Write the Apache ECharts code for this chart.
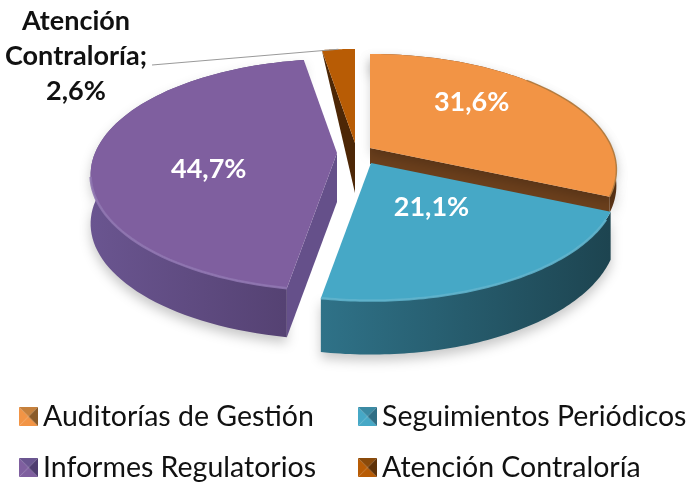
<!DOCTYPE html>
<html><head><meta charset="utf-8">
<style>html,body{margin:0;padding:0;background:#fff}#c{width:698px;height:482px}</style>
<script src="https://cdn.jsdelivr.net/npm/echarts@6/dist/echarts.min.js"></script>
</head><body><div id="c"></div>
<script>
const categories = ['Auditorías de Gestión','Seguimientos Periódicos','Informes Regulatorios','Atención Contraloría'];
const values = [31.6, 21.1, 44.7, 2.6];
const valueLabels = ['31,6%','21,1%','44,7%','2,6%'];

// styling / projection settings, separate from the data
const topColors  = ['#f29445','#46a8c6','#7f5f9f','#b85c05'];
const rimColors  = ['#b07a3e','#5fb3cc','#8f76b0','#a85405'];
const rimLimit   = [0.7,-0.45,-0.2,-2];
const rimWidth   = [1.5,2.5,2.5,0];
const radial     = ['#6b3f1c','#2f7288','#65508a','#4d2706'];
const wallStops  = [['#6b3f1c','#5a3315'],['#2f7288','#1d4450'],['#6a5590','#534070'],['#4d2706','#4d2706']];
const iconMid    = ['#c5803c','#3b8aa3','#6a5590','#8a4a0a'];
const iconDark   = ['#8a5a28','#2f6e85','#4f3d70','#5e3208'];
const apexes     = [[370,148],[371,163],[337,153],[355,143]];
const labelOffset= [[0.42,-0.41],[0.25,0.40],[-0.53,0.15]];
const drawOrder  = [3,2,0,1];
const RX = 242, RY = 111.7, K = 0.188;

const total = values.reduce((a,b)=>a+b,0);
const starts = []; let acc = 0;
values.forEach(v=>{ starts.push(acc/total*Math.PI*2); acc += v; });
const ends = values.map((v,i)=>starts[i]+v/total*Math.PI*2);

function proj(i,a){
  const u=Math.sin(a), v=Math.cos(a), s=1/(1+K*v);
  return [apexes[i][0]+RX*u*s, apexes[i][1]-RY*v*s];
}
const depthOf = [
  ()=>16,
  a=>44-10*Math.cos(a),
  ()=>49,
  ()=>50
];
function steps(a0,a1,n){ const p=[]; for(let k=0;k<=n;k++){ p.push(a0+(a1-a0)*k/n);} return p; }

function renderSlice(i){
  return function(){
    const ang = steps(starts[i],ends[i],80);
    const depth = depthOf[i];
    const top = ang.map(a=>proj(i,a));
    const bot = ang.map(a=>{const p=proj(i,a);return [p[0],p[1]+depth(a)];});
    const ap = apexes[i];
    const shadow = {shadowBlur:12,shadowColor:'rgba(0,0,0,0.22)',shadowOffsetY:6};
    const children = [];
    // outer wall: the sliver slice shows only its cut face
    if(values[i]>5) children.push({type:'polygon',shape:{points:top.concat(bot.slice().reverse())},
      style:Object.assign({fill:{type:'linear',x:0,y:0,x2:1,y2:0,colorStops:[
        {offset:0,color:wallStops[i][0]},{offset:1,color:wallStops[i][1]}]}},shadow)});
    // cut faces that look towards the viewer
    [[starts[i],-1],[ends[i],1]].forEach(e=>{
      const a=e[0];
      if(Math.sin(a)*e[1]<0.001) return;
      const p=proj(i,a), c=Math.cos(a);
      const rimH = c>0.9?0:depth(a);
      children.push({type:'polygon',shape:{points:[ap,p,[p[0],p[1]+rimH],[ap[0],ap[1]+depth(Math.PI/2)]]},
        style:{fill:radial[i]}});
    });
    // top face
    const topStyle={fill:topColors[i]};
    if(i===0) Object.assign(topStyle,{shadowBlur:10,shadowColor:'rgba(0,0,0,0.16)',shadowOffsetY:6});
    children.push({type:'polygon',shape:{points:[ap].concat(top)},style:topStyle});
    // bevel highlight on the front rim
    const front = top.filter((p,k)=>Math.cos(ang[k])<rimLimit[i]);
    if(rimWidth[i]>0 && front.length>1) children.push({type:'polyline',shape:{points:front},
      style:{fill:null,stroke:rimColors[i],lineWidth:rimWidth[i],opacity:0.9}});
    // value label
    if(labelOffset[i]){
      children.push({type:'text',style:{
        x:ap[0]+RX*labelOffset[i][0], y:ap[1]+RY*labelOffset[i][1],
        text:valueLabels[i],fill:'#fff',font:'bold 27px Lato, "Open Sans", sans-serif',
        align:'center',verticalAlign:'middle'}});
    } else {
      const m=proj(i,(starts[i]+ends[i])/2);
      children.push({type:'polyline',shape:{points:[[152,65],m]},style:{fill:null,stroke:'#9a9a9a',lineWidth:1.2}});
      const parts=categories[i].split(' ');
      [parts[0],parts[1]+';',valueLabels[i]].forEach((t,k)=>{
        children.push({type:'text',style:{x:76,y:21+35*k,text:t,fill:'#111',
          font:'bold 27px Lato, "Open Sans", sans-serif',align:'center',verticalAlign:'middle'}});
      });
    }
    return {type:'group',children};
  };
}

function icon(i){
  const c=document.createElement('canvas'); c.width=c.height=20;
  const g=c.getContext('2d');
  const tri=(pts,col)=>{g.fillStyle=col;g.beginPath();pts.forEach((p,k)=>k?g.lineTo(p[0],p[1]):g.moveTo(p[0],p[1]));g.closePath();g.fill();};
  const C=[10,10];
  tri([[0,0],[0,20],C],topColors[i]);
  tri([[0,20],[20,20],C],topColors[i]);
  tri([[0,0],[20,0],C],iconMid[i]);
  tri([[20,0],[20,20],C],iconDark[i]);
  return 'image://'+c.toDataURL();
}
const legendBase = {orient:'vertical',itemWidth:19,itemHeight:19,itemGap:22,height:160,
  textStyle:{fontFamily:'Lato, "Open Sans", sans-serif',fontSize:28.5,color:'#111',padding:[0,0,0,0]},
  selectedMode:false,padding:0};
const legendData = ns=>ns.map(i=>({name:categories[i],icon:icon(i)}));

const chart = echarts.init(document.getElementById('c'),null,{renderer:'canvas'});
chart.setOption({
  animation:false,
  backgroundColor:'#fff',
  legend:[
    Object.assign({left:19,top:402,data:legendData([0,2])},legendBase),
    Object.assign({left:358,top:402,data:legendData([1,3])},legendBase)
  ],
  series:drawOrder.map(i=>({
    type:'custom',name:categories[i],coordinateSystem:'none',
    itemStyle:{color:topColors[i]},
    data:[[values[i]]],renderItem:renderSlice(i),silent:true
  }))
});
</script></body></html>
